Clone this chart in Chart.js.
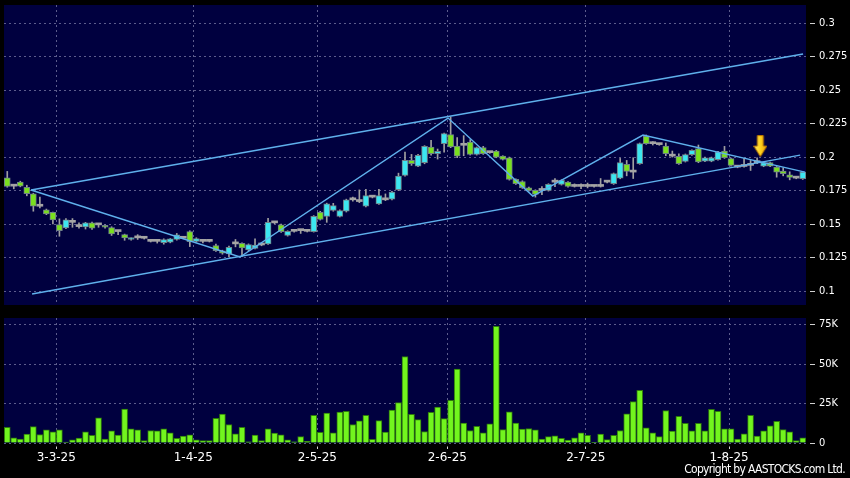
<!DOCTYPE html>
<html>
<head>
<meta charset="utf-8">
<script src="https://cdn.jsdelivr.net/npm/chart.js@4.4.1/dist/chart.umd.min.js"></script>
<style>
  html, body { margin: 0; padding: 0; background: #000; }
  #wrap { position: relative; width: 850px; height: 478px; overflow: hidden; background: #000; }
  #priceBox { position: absolute; left: 0; top: 0; width: 850px; height: 310px; }
  #volBox { position: absolute; left: 0; top: 310px; width: 850px; height: 168px; }
  #copy { position: absolute; right: 5px; top: 462px; color: #fff; letter-spacing: -0.7px;
          font: 12px 'DejaVu Sans Condensed', 'DejaVu Sans', sans-serif; white-space: nowrap; }
</style>
</head>
<body>
<div id="wrap">
  <div id="priceBox"><canvas id="price"></canvas></div>
  <div id="volBox"><canvas id="vol"></canvas></div>
  <div id="copy">Copyright by AASTOCKS.com Ltd.</div>
</div>
<script>
// Daily candles, one per trading day (index 0..122)
const opens = [
  .1846,.1783,.1813,.1775,.1726,.1633,.1606,.1588,.1496,.1471,
  .1513,.1481,.1479,.1509,.1494,.1489,.1474,.1444,.1421,.1385,
  .1397,.1394,.1371,.1371,.1361,.1364,.1386,.1394,.1444,.1371,
  .1371,.1371,.1339,.1300,.1277,.1352,.1356,.1307,.1319,.1344,
  .1352,.1509,.1494,.1416,.1446,.1451,.1446,.1444,.1588,.1558,
  .1601,.1558,.1596,.1681,.1668,.1633,.1701,.1651,.1681,.1686,
  .1756,.1863,.1975,.1933,.1959,.2075,.2025,.2100,.2168,.2082,
  .2088,.2112,.2020,.2070,.2033,.2045,.2007,.1995,.1833,.1818,
  .1771,.1751,.1751,.1751,.1813,.1796,.1813,.1781,.1781,.1781,
  .1781,.1781,.1813,.1801,.1843,.1945,.1888,.1951,.2157,.2100,
  .2093,.2082,.2007,.2005,.1968,.2018,.2063,.1970,.1970,.1981,
  .2045,.1988,.1925,.1930,.1938,.1958,.1933,.1958,.1925,.1895,
  .1868,.1843,.1838
];
const closes = [
  .1781,.1783,.1783,.1726,.1633,.1633,.1576,.1531,.1451,.1531,
  .1513,.1481,.1509,.1469,.1494,.1476,.1427,.1444,.1397,.1393,
  .1397,.1394,.1371,.1371,.1385,.1389,.1419,.1394,.1369,.1391,
  .1371,.1371,.1302,.1282,.1326,.1352,.1322,.1347,.1344,.1344,
  .1513,.1509,.1444,.1446,.1446,.1451,.1446,.1558,.1534,.1651,
  .1638,.1601,.1681,.1681,.1668,.1713,.1701,.1713,.1681,.1738,
  .1858,.1975,.1951,.2013,.2080,.2025,.2043,.2175,.2075,.2007,
  .2088,.2020,.2070,.2025,.2033,.2000,.1983,.1833,.1801,.1771,
  .1751,.1721,.1751,.1796,.1813,.1826,.1781,.1781,.1781,.1781,
  .1781,.1781,.1813,.1876,.1958,.1893,.1888,.2100,.2100,.2100,
  .2093,.2025,.2007,.1951,.2018,.2050,.1963,.1995,.1995,.2037,
  .1995,.1938,.1925,.1930,.1938,.1958,.1958,.1933,.1888,.1876,
  .1848,.1843,.1888
];
const highs = [
  .1893,.1795,.1820,.1790,.1730,.1701,.1612,.1590,.1539,.1541,
  .1541,.1509,.1513,.1515,.1500,.1495,.1480,.1450,.1425,.1398,
  .1421,.1400,.1376,.1378,.1390,.1392,.1430,.1400,.1450,.1398,
  .1381,.1376,.1350,.1305,.1335,.1385,.1360,.1352,.1390,.1350,
  .1543,.1515,.1500,.1450,.1460,.1456,.1451,.1563,.1595,.1656,
  .1655,.1606,.1686,.1701,.1755,.1760,.1710,.1760,.1725,.1745,
  .1880,.2037,.2020,.2020,.2085,.2125,.2060,.2180,.2299,.2145,
  .2160,.2130,.2075,.2080,.2040,.2050,.2010,.2000,.1838,.1823,
  .1776,.1756,.1780,.1801,.1840,.1831,.1818,.1800,.1800,.1806,
  .1786,.1840,.1820,.1881,.1990,.1975,.1995,.2105,.2165,.2115,
  .2100,.2105,.2045,.2025,.2023,.2055,.2090,.2000,.2000,.2042,
  .2080,.1993,.1930,.1990,.1975,.1995,.1963,.1963,.1930,.1920,
  .1890,.1848,.1893
];
const lows = [
  .1775,.1763,.1778,.1711,.1596,.1620,.1570,.1501,.1409,.1466,
  .1476,.1470,.1463,.1460,.1476,.1470,.1415,.1420,.1379,.1380,
  .1385,.1388,.1366,.1358,.1350,.1360,.1380,.1390,.1332,.1366,
  .1360,.1366,.1295,.1275,.1254,.1330,.1258,.1300,.1315,.1338,
  .1348,.1503,.1438,.1410,.1440,.1430,.1441,.1440,.1530,.1513,
  .1596,.1553,.1590,.1670,.1660,.1628,.1695,.1646,.1675,.1680,
  .1750,.1858,.1938,.1928,.1950,.2015,.1985,.2037,.2070,.1995,
  .2010,.2015,.2015,.2020,.2028,.1995,.1978,.1828,.1796,.1766,
  .1746,.1701,.1720,.1746,.1780,.1791,.1776,.1776,.1765,.1770,
  .1776,.1776,.1808,.1796,.1838,.1860,.1840,.1946,.2095,.2090,
  .2088,.2010,.2000,.1946,.1963,.2013,.1958,.1965,.1965,.1976,
  .1990,.1933,.1920,.1925,.1900,.1950,.1928,.1928,.1850,.1860,
  .1830,.1838,.1833
];
// volume in thousands of shares
const volumes = [
  10,3.3,2.5,5.6,10.4,5.4,8.3,7.1,8.3,0.6,
  2,3.1,7.1,4.8,16,2.5,7.7,5,21.5,9,
  8.3,1.5,7.9,7.7,9,6.5,2.9,4.4,5.2,2,
  1.5,1.5,15.6,18.3,11.7,5.8,10,0.8,5,1.5,
  9,6.3,5.2,2,0.8,4,1,17.5,6.7,19,
  6.5,19.6,20,11.7,14,17.5,2.3,14.2,6.9,20.8,
  25.6,54.8,18.1,14.8,7.3,19.4,22.7,15.4,27,46.9,
  12.7,7.9,10.6,6.5,12.1,74,8.5,19.8,12.7,8.8,
  9.2,8.3,2.5,4,4.6,2.9,1.9,3.3,6.5,4.8,
  0.4,5.6,2.1,4.8,7.9,18.5,26.3,33.3,9.6,6.5,
  4,20.6,7.5,16.9,12.5,7.7,12.5,7.7,21.3,20,
  9,9,2.5,5.8,17.5,4.4,7.7,10.8,13.8,8.5,
  7.1,1.5,3.3
];

// axis ticks
const dateTicks = [7.52, 28.53, 47.55, 67.49, 88.72, 110.7];
const dateLabels = ['3-3-25', '1-4-25', '2-5-25', '2-6-25', '2-7-25', '1-8-25'];
const priceTicks = [0.1, 0.125, 0.15, 0.175, 0.2, 0.225, 0.25, 0.275, 0.3];
const priceTickLabels = ['0.1', '0.125', '0.15', '0.175', '0.2', '0.225', '0.25', '0.275', '0.3'];
const volTicks = [0, 25, 50, 75];
const volTickLabels = ['0', '25K', '50K', '75K'];

// drawn trend lines (bar index, price)
const upperChannel = [{x: 3.64, y: 0.1754}, {x: 122.05, y: 0.2769}];
const lowerChannel = [{x: 3.80, y: 0.0978}, {x: 121.6, y: 0.2015}];
const zigzag = [
  {x: 3.64, y: 0.1754}, {x: 35.7, y: 0.1254}, {x: 67.6, y: 0.2291},
  {x: 80.6, y: 0.1709}, {x: 97.5, y: 0.2164}, {x: 122.35, y: 0.1888}
];
const arrowMark = [{x: 115.5, y: 0.2082}];

const NAVY = '#00003f';
const GRID = '#5c5c8c';
const UP = '#3ce6f0', DOWN = '#7ae01e', FLAT = '#a4a4a4';
const LINE = '#5fb0ec';
const FONT = "'DejaVu Sans', sans-serif";
const idx = opens.map((_, i) => i);

function candleColor(i) {
  if (closes[i] > opens[i]) return UP;
  if (closes[i] < opens[i]) return DOWN;
  return FLAT;
}

const panelBg = {
  id: 'panelBg',
  beforeDraw(chart) {
    const {ctx, chartArea: a} = chart;
    ctx.save();
    ctx.fillStyle = '#000';
    ctx.fillRect(0, 0, chart.width, chart.height);
    ctx.fillStyle = NAVY;
    ctx.fillRect(a.left, a.top, a.right - a.left, a.bottom - a.top);
    ctx.restore();
  }
};

function makeArrow() {
  const c = document.createElement('canvas');
  c.width = 14; c.height = 22;
  const g = c.getContext('2d');
  const grad = g.createLinearGradient(0, 0, 14, 0);
  grad.addColorStop(0, '#fff06a');
  grad.addColorStop(0.5, '#ffd21e');
  grad.addColorStop(1, '#e89a00');
  g.fillStyle = grad;
  g.strokeStyle = '#b87400';
  g.lineWidth = 1;
  g.beginPath();
  g.moveTo(4, 0.5); g.lineTo(10, 0.5); g.lineTo(10, 11); g.lineTo(13.5, 11);
  g.lineTo(7, 21.5); g.lineTo(0.5, 11); g.lineTo(4, 11); g.closePath();
  g.fill(); g.stroke();
  return c;
}

function xAxis(showLabels) {
  return {
    type: 'linear', min: -0.5, max: 122.5, offset: false,
    afterBuildTicks: ax => { ax.ticks = dateTicks.map(v => ({value: v})); },
    ticks: {
      display: showLabels, autoSkip: false, maxRotation: 0, minRotation: 0,
      color: '#fff', font: {family: FONT, size: 12}, padding: 2,
      callback: (v, i) => dateLabels[i]
    },
    grid: {
      color: GRID, lineWidth: 1, offset: false, drawTicks: showLabels,
      tickLength: 6, tickColor: '#d0d0d0', tickWidth: 1, tickBorderDash: [0, 3.5, 2.5, 20]
    },
    border: {display: false, dash: [2, 3]},
    afterFit: ax => {
      ax.height = showLabels ? 35 : 0;
      ax.paddingLeft = 0; ax.paddingRight = 0;
    }
  };
}

// right-hand value axis
function yAxis(min, max, ticks, labels) {
  return {
    position: 'right', min: min, max: max,
    afterBuildTicks: ax => { ax.ticks = ticks.map(v => ({value: v})); },
    ticks: {
      color: '#fff', font: {family: "'DejaVu Sans Condensed', 'DejaVu Sans', sans-serif", size: 11},
      padding: -2, callback: (v, i) => labels[i]
    },
    grid: {
      color: GRID, lineWidth: 1, drawTicks: true, tickLength: 15,
      tickColor: '#d0d0d0', tickWidth: 1, tickBorderDash: [0, 4, 5, 40]
    },
    border: {display: false, dash: [2, 3]},
    afterFit: ax => {
      ax.width = 44;
      ax.paddingTop = 0; ax.paddingBottom = 0;
    }
  };
}

Chart.defaults.animation = false;

new Chart(document.getElementById('price'), {
  type: 'bar',
  data: {
    datasets: [
      {
        type: 'line', label: 'upper', data: upperChannel, borderColor: LINE,
        borderWidth: 1.4, pointRadius: 0, order: 0
      },
      {
        type: 'line', label: 'lower', data: lowerChannel, borderColor: LINE,
        borderWidth: 1.4, pointRadius: 0, order: 0
      },
      {
        type: 'line', label: 'zigzag', data: zigzag, borderColor: LINE,
        borderWidth: 1.4, pointRadius: 0, tension: 0, order: 0
      },
      {
        type: 'line', label: 'signal', data: arrowMark, showLine: false,
        pointStyle: makeArrow(), pointRadius: 10, order: -1
      },
      {
        label: 'body', data: idx.map(i => ({x: i, y: [opens[i], closes[i]]})),
        backgroundColor: idx.map(candleColor),
        borderColor: idx.map(i => opens[i] === closes[i] ? FLAT : '#6e8088'),
        borderWidth: idx.map(i => opens[i] === closes[i] ? 0 : 1),
        borderSkipped: false, barThickness: 6, minBarLength: 2, grouped: false, order: 1
      },
      {
        label: 'wick', data: idx.map(i => ({x: i, y: [lows[i], highs[i]]})),
        backgroundColor: '#a0a0a0', borderWidth: 0,
        barThickness: 1, grouped: false, order: 2
      }
    ]
  },
  options: {
    responsive: true, maintainAspectRatio: false, animation: false,
    layout: {autoPadding: false, padding: {left: 4, right: 0, top: 5, bottom: 5}},
    plugins: {legend: {display: false}, tooltip: {enabled: false}},
    scales: {
      x: xAxis(false),
      y: yAxis(0.0896, 0.3135, priceTicks, priceTickLabels)
    }
  },
  plugins: [panelBg]
});

new Chart(document.getElementById('vol'), {
  type: 'bar',
  data: {
    datasets: [{
      label: 'volume', data: idx.map(i => ({x: i, y: volumes[i]})),
      backgroundColor: '#72f51e', borderColor: '#2e7a0c', borderWidth: 1,
      borderSkipped: 'start', barThickness: 6, grouped: false
    }]
  },
  options: {
    responsive: true, maintainAspectRatio: false, animation: false,
    layout: {autoPadding: false, padding: {left: 4, right: 0, top: 8, bottom: 0}},
    plugins: {legend: {display: false}, tooltip: {enabled: false}},
    scales: {
      x: xAxis(true),
      y: yAxis(0, 79.2, volTicks, volTickLabels)
    }
  },
  plugins: [panelBg]
});
</script>
</body>
</html>
